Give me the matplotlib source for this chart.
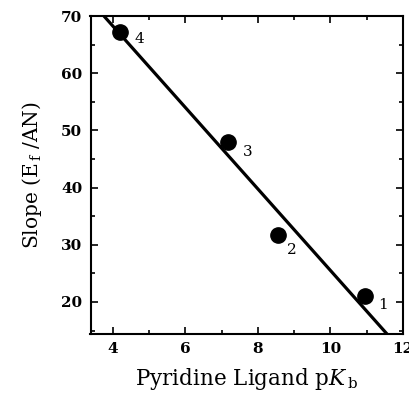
import matplotlib
matplotlib.use("Agg")
import matplotlib.pyplot as plt
import numpy as np

plt.rcParams["mathtext.fontset"] = "dejavuserif"

# data
pkb = [10.96, 8.55, 7.18, 4.18]
slope_vals = [21.0, 31.7, 48.0, 67.2]
point_labels = ["1", "2", "3", "4"]
# label offsets (points)
label_dx = [13, 10, 14, 14]
label_dy = [-6, -11, -7, -5]
# fitted line
fit_slope = -7.12
fit_intercept = 96.7
line_x = [3.4, 12.0]

fig = plt.figure(figsize=(4.09, 3.97), dpi=100)
ax = fig.add_axes([90.5/409, 1 - 334/397, (403-90.5)/409, (334-16)/397])

lx = np.array(line_x)
ax.plot(lx, fit_slope * lx + fit_intercept, color="black", lw=2.3, zorder=2)
ax.plot(pkb, slope_vals, "o", color="black", ms=11, zorder=3)
for x, y, t, dx, dy in zip(pkb, slope_vals, point_labels, label_dx, label_dy):
    ax.annotate(t, (x, y), xytext=(dx, dy), textcoords="offset points",
                fontsize=11, family="DejaVu Serif", ha="center", va="center")

ax.set_xlim(3.38, 12.0)
ax.set_ylim(14.4, 70)
ax.set_xticks([4, 6, 8, 10, 12])
ax.set_xticks(np.arange(4, 12, 1), minor=True)
ax.set_yticks([20, 30, 40, 50, 60, 70])
ax.set_yticks(np.arange(15, 70, 5), minor=True)
ax.tick_params(which="both", direction="in", top=True, right=True, width=1.2)
ax.tick_params(which="major", length=5, labelsize=11, pad=6)
ax.tick_params(which="minor", length=3)
for lab in ax.get_xticklabels() + ax.get_yticklabels():
    lab.set_fontweight("bold")
    lab.set_family("DejaVu Serif")
for s in ax.spines.values():
    s.set_linewidth(1.5)

ax.set_xlabel(r"Pyridine Ligand p$K$$_{\,\mathrm{b}}$", family="DejaVu Serif", fontsize=15.5, labelpad=7)
ax.set_ylabel(r"Slope (E$_{\,\mathrm{f}}$ /AN)", family="DejaVu Serif", fontsize=14.5, labelpad=12)

fig.savefig("out.png", dpi=100)
